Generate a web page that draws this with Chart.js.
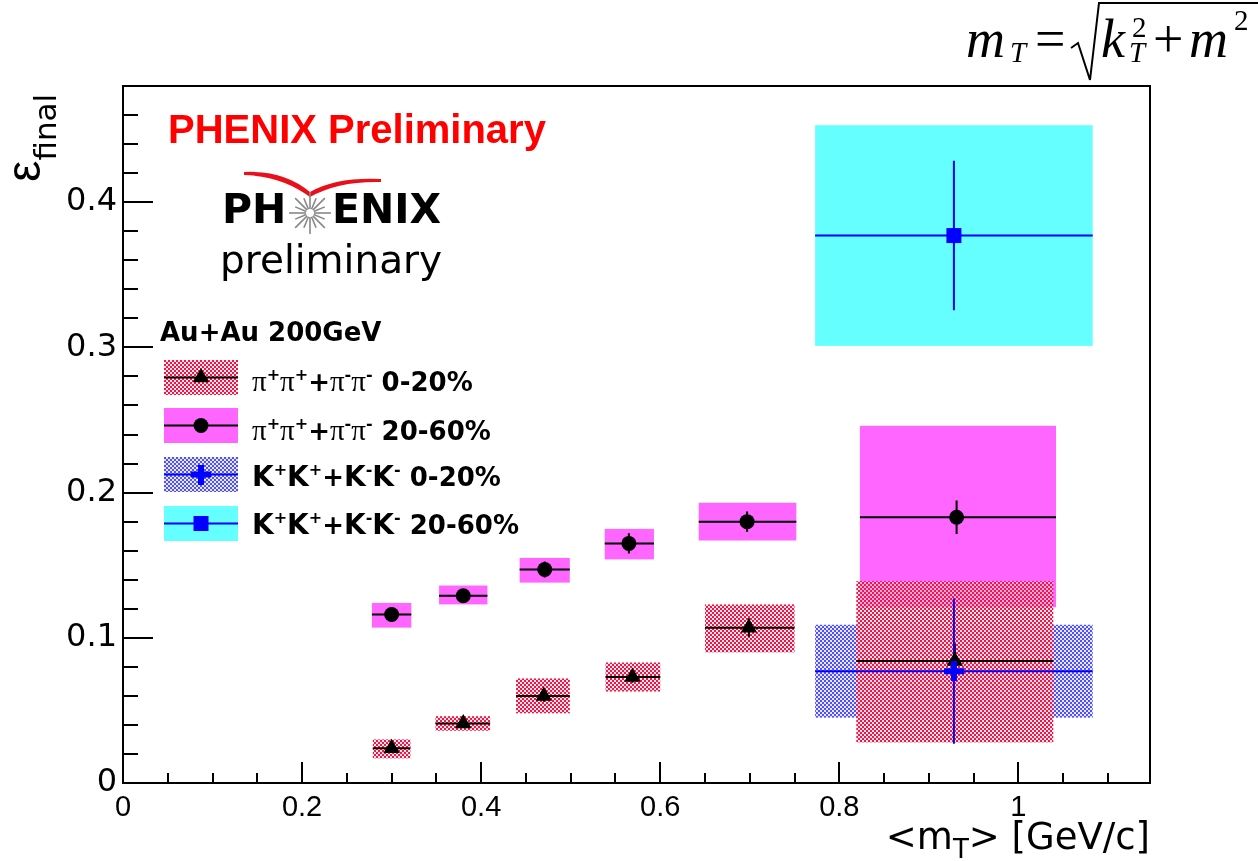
<!DOCTYPE html>
<html>
<head>
<meta charset="utf-8">
<script src="https://cdn.jsdelivr.net/npm/chart.js@4.4.1/dist/chart.umd.min.js"></script>
<style>
body { margin: 0; background: #fff; }
#wrap { position: relative; width: 1258px; height: 861px; overflow: hidden; }
#c { position: absolute; left: 0; top: 0; }
.t { position: absolute; white-space: nowrap; line-height: 1; color: #000; }
.serif { font-family: "Liberation Serif", "Times New Roman", serif; }
.fi { font-style: italic; }
.leg { font-family: "DejaVu Sans", sans-serif; font-weight: bold; font-size: 26px; }
.leg .gr { font-family: "Liberation Serif", serif; font-weight: normal; font-size: 29px; }
.leg .kk { font-size: 28px; }
.leg .sp { font-size: 16px; position: relative; top: -11px; }
.sw { position: absolute; }
#over { position: absolute; left: 0; top: 0; }
</style>
</head>
<body>
<div id="wrap">
<canvas id="c" width="1258" height="861"></canvas>
<svg id="over" width="1258" height="861">
  <!-- logo swoosh -->
  <path d="M244,172 Q284,170 310,192 Q336,177 381,179 L381,182 Q338,181 310,197 Q282,176 244,175 Z" fill="#e8101a"/>
  <g id="star" stroke="#888" stroke-width="1.6"></g>
  <!-- square root of the formula -->
  <polyline points="1071,48 1078,43 1090,80 1099,3 1258,3" fill="none" stroke="#000" stroke-width="2"/>
</svg>

<!-- formula -->
<div class="t serif fi" style="left:966px; top:12px; font-size:54px">m</div>
<div class="t serif fi" style="left:1010px; top:38px; font-size:29px">T</div>
<div class="t serif" style="left:1035px; top:12px; font-size:54px">=</div>
<div class="t serif fi" style="left:1101px; top:12px; font-size:54px">k</div>
<div class="t serif" style="left:1132px; top:13px; font-size:29px">2</div>
<div class="t serif fi" style="left:1129px; top:38px; font-size:29px">T</div>
<div class="t serif" style="left:1153px; top:12px; font-size:54px">+</div>
<div class="t serif fi" style="left:1189px; top:12px; font-size:54px">m</div>
<div class="t serif" style="left:1234px; top:6px; font-size:29px">2</div>

<!-- axis titles -->
<div class="t" style="left:0px; top:182px; transform-origin:0 0; transform:rotate(-90deg); font-size:48px"><span style="font-family:'Liberation Sans',sans-serif">ε</span><span style="font-family:'DejaVu Sans',sans-serif; font-size:31px; position:relative; top:16px">final</span></div>
<div class="t" style="right:108px; top:818px; font-family:'DejaVu Sans',sans-serif; font-size:37px">&lt;m<span style="font-size:26px; position:relative; top:9px">T</span>&gt; [GeV/c]</div>

<!-- labels -->
<div class="t" style="left:168px; top:109px; font-family:'Liberation Sans',Arial,sans-serif; font-weight:bold; font-size:40px; color:#ff0000">PHENIX Preliminary</div>
<div class="t" style="left:222px; top:189px; font-family:'DejaVu Sans',sans-serif; font-weight:bold; font-size:41px">PH</div>
<div class="t" style="left:332px; top:189px; font-family:'DejaVu Sans',sans-serif; font-weight:bold; font-size:41px">ENIX</div>
<div class="t" style="left:220px; top:240px; font-family:'DejaVu Sans',sans-serif; font-size:39px">preliminary</div>

<!-- legend -->
<div class="t leg" style="left:160px; top:319px">Au+Au 200GeV</div>
<canvas class="sw" id="sw0" width="74" height="35" style="left:164px; top:360px"></canvas>
<canvas class="sw" id="sw1" width="74" height="35" style="left:164px; top:408px"></canvas>
<canvas class="sw" id="sw2" width="74" height="35" style="left:164px; top:457px"></canvas>
<canvas class="sw" id="sw3" width="74" height="35" style="left:164px; top:506px"></canvas>
<div class="t leg" style="left:252px; top:367px"><span class="gr">π</span><span class="sp">+</span><span class="gr">π</span><span class="sp">+</span>+<span class="gr">π</span><span class="sp">-</span><span class="gr">π</span><span class="sp">-</span> 0-20%</div>
<div class="t leg" style="left:252px; top:416px"><span class="gr">π</span><span class="sp">+</span><span class="gr">π</span><span class="sp">+</span>+<span class="gr">π</span><span class="sp">-</span><span class="gr">π</span><span class="sp">-</span> 20-60%</div>
<div class="t leg" style="left:252px; top:463px"><span class="kk">K</span><span class="sp">+</span><span class="kk">K</span><span class="sp">+</span>+<span class="kk">K</span><span class="sp">-</span><span class="kk">K</span><span class="sp">-</span> 0-20%</div>
<div class="t leg" style="left:252px; top:511px"><span class="kk">K</span><span class="sp">+</span><span class="kk">K</span><span class="sp">+</span>+<span class="kk">K</span><span class="sp">-</span><span class="kk">K</span><span class="sp">-</span> 20-60%</div>
</div>

<script>
// axis ticks
const xMajor = [0, 0.2, 0.4, 0.6, 0.8, 1];
const yMajor = [0, 0.1, 0.2, 0.3, 0.4];

// pi+pi+ + pi-pi-, 0-20%
const pi020Mt    = [0.300, 0.380, 0.470, 0.569, 0.699, 0.929];
const pi020Eps   = [0.024, 0.041, 0.060, 0.073, 0.107, 0.084];
const pi020Stat  = [0.003, 0.003, 0.004, 0.004, 0.0065, 0.012];
const pi020MtLo  = [0.279, 0.349, 0.439, 0.539, 0.650, 0.819];
const pi020MtHi  = [0.321, 0.410, 0.499, 0.600, 0.750, 1.039];
const pi020SysLo = [0.017, 0.036, 0.048, 0.063, 0.090, 0.028];
const pi020SysHi = [0.030, 0.046, 0.072, 0.083, 0.123, 0.139];

// pi+pi+ + pi-pi-, 20-60%
const pi2060Mt    = [0.300, 0.380, 0.471, 0.565, 0.697, 0.931];
const pi2060Eps   = [0.116, 0.129, 0.147, 0.165, 0.180, 0.183];
const pi2060Stat  = [0.004, 0.004, 0.0055, 0.007, 0.007, 0.0115];
const pi2060MtLo  = [0.278, 0.353, 0.443, 0.538, 0.643, 0.823];
const pi2060MtHi  = [0.322, 0.407, 0.499, 0.593, 0.752, 1.042];
const pi2060SysLo = [0.107, 0.123, 0.138, 0.154, 0.167, 0.121];
const pi2060SysHi = [0.124, 0.136, 0.155, 0.175, 0.193, 0.246];

// K+K+ + K-K-, 0-20%
const k020Mt    = [0.928];
const k020Eps   = [0.077];
const k020Stat  = [0.050];
const k020MtLo  = [0.773];
const k020MtHi  = [1.083];
const k020SysLo = [0.045];
const k020SysHi = [0.109];

// K+K+ + K-K-, 20-60%
const k2060Mt    = [0.928];
const k2060Eps   = [0.377];
const k2060Stat  = [0.0515];
const k2060MtLo  = [0.773];
const k2060MtHi  = [1.083];
const k2060SysLo = [0.301];
const k2060SysHi = [0.453];

const canvas = document.getElementById('c');
const ctx = canvas.getContext('2d');

// ROOT-like hatch (checker) fill
function checker(solid, soft) {
    const t = document.createElement('canvas');
    t.width = 4; t.height = 4;
    const g = t.getContext('2d');
    g.fillStyle = soft;
    g.fillRect(2, 0, 2, 2); g.fillRect(0, 2, 2, 2);
    g.fillStyle = solid;
    g.fillRect(0, 0, 2, 2); g.fillRect(2, 2, 2, 2);
    return t;
}
const redTile = checker('rgb(245,20,70)', 'rgba(255,215,225,0.6)');
const blueTile = checker('rgb(80,80,255)', 'rgba(215,215,255,0.6)');

// thick blue cross marker
const plus = document.createElement('canvas');
plus.width = 20; plus.height = 20;
(function () {
    const g = plus.getContext('2d');
    g.fillStyle = '#0000ff';
    g.fillRect(7, 0, 6, 20);
    g.fillRect(0, 7, 20, 6);
})();

const pi020 = { mt: pi020Mt, eps: pi020Eps, stat: pi020Stat, lo: pi020MtLo, hi: pi020MtHi, sLo: pi020SysLo, sHi: pi020SysHi,
    tile: redTile, line: '#000', marker: 'triangle', radius: 9.5 };
const pi2060 = { mt: pi2060Mt, eps: pi2060Eps, stat: pi2060Stat, lo: pi2060MtLo, hi: pi2060MtHi, sLo: pi2060SysLo, sHi: pi2060SysHi,
    color: 'rgb(255,102,255)', line: '#000', marker: 'circle', radius: 7.5 };
const k020 = { mt: k020Mt, eps: k020Eps, stat: k020Stat, lo: k020MtLo, hi: k020MtHi, sLo: k020SysLo, sHi: k020SysHi,
    tile: blueTile, line: '#0000ff', marker: plus, radius: 10 };
const k2060 = { mt: k2060Mt, eps: k2060Eps, stat: k2060Stat, lo: k2060MtLo, hi: k2060MtHi, sLo: k2060SysLo, sHi: k2060SysHi,
    color: 'rgb(102,255,255)', line: '#0000ff', marker: 'rect', radius: 10.6 };

const boxOrder = [k2060, pi2060, k020, pi020];
const barOrder = [pi2060, pi020, k020, k2060];

function fillOf(g, s) {
    return s.tile ? g.createPattern(s.tile, 'repeat') : s.color;
}

const rootStyle = {
    id: 'rootStyle',
    beforeDatasetsDraw(chart) {
        const { ctx, chartArea: a } = chart;
        const x = chart.scales.x, y = chart.scales.y;
        ctx.save();
        ctx.beginPath();
        ctx.rect(a.left, a.top, a.width, a.height);
        ctx.clip();
        boxOrder.forEach(s => {
            ctx.fillStyle = fillOf(ctx, s);
            s.mt.forEach((m, i) => {
                const x0 = x.getPixelForValue(s.lo[i]), x1 = x.getPixelForValue(s.hi[i]);
                const y0 = y.getPixelForValue(s.sHi[i]), y1 = y.getPixelForValue(s.sLo[i]);
                ctx.fillRect(x0, y0, x1 - x0, y1 - y0);
            });
        });
        ctx.lineWidth = 2;
        barOrder.forEach(s => {
            ctx.strokeStyle = s.line;
            s.mt.forEach((m, i) => {
                const px = x.getPixelForValue(m), py = y.getPixelForValue(s.eps[i]);
                ctx.beginPath();
                ctx.moveTo(x.getPixelForValue(s.lo[i]), py);
                ctx.lineTo(x.getPixelForValue(s.hi[i]), py);
                ctx.moveTo(px, y.getPixelForValue(s.eps[i] - s.stat[i]));
                ctx.lineTo(px, y.getPixelForValue(s.eps[i] + s.stat[i]));
                ctx.stroke();
            });
        });
        ctx.restore();
    },
    afterDraw(chart) {
        const { ctx, chartArea: a } = chart;
        const x = chart.scales.x, y = chart.scales.y;
        ctx.save();
        ctx.strokeStyle = '#000';
        ctx.lineWidth = 2;
        ctx.strokeRect(a.left, a.top, a.width, a.height);
        ctx.beginPath();
        for (let k = 1; k * 0.05 < x.max - 0.001; k++) {
            const px = Math.round(x.getPixelForValue(k * 0.05));
            const len = k % 4 === 0 ? 21 : 10;
            ctx.moveTo(px, a.bottom);
            ctx.lineTo(px, a.bottom - len);
        }
        for (let k = 1; k * 0.02 < y.max - 0.001; k++) {
            const py = Math.round(y.getPixelForValue(k * 0.02));
            const len = k % 5 === 0 ? 30 : 15;
            ctx.moveTo(a.left, py);
            ctx.lineTo(a.left + len, py);
        }
        ctx.stroke();
        ctx.restore();
    }
};

function toPoints(s) {
    return s.mt.map((m, i) => ({ x: m, y: s.eps[i] }));
}
function markerSet(s) {
    const black = s.line === '#000';
    return {
        data: toPoints(s),
        pointStyle: s.marker,
        pointRadius: s.radius,
        pointBackgroundColor: black ? '#000' : '#0000ff',
        pointBorderColor: black ? '#000' : '#0000ff',
        pointBorderWidth: 0,
        showLine: false
    };
}

new Chart(ctx, {
    type: 'scatter',
    data: {
        datasets: [markerSet(k020), markerSet(k2060), markerSet(pi020), markerSet(pi2060)]
    },
    options: {
        responsive: false,
        animation: false,
        events: [],
        layout: { padding: { top: 86, right: 108, left: 0, bottom: 0 } },
        plugins: { legend: { display: false }, tooltip: { enabled: false } },
        scales: {
            x: {
                type: 'linear', min: 0, max: 1.147,
                grid: { display: false, drawTicks: false },
                border: { display: false },
                afterBuildTicks: s => { s.ticks = xMajor.map(v => ({ value: v })); },
                afterFit: s => { s.height = 78; },
                ticks: {
                    padding: 8, color: '#000', maxRotation: 0, autoSkip: false,
                    font: { family: 'Liberation Sans', size: 29 },
                    callback: v => String(v)
                }
            },
            y: {
                type: 'linear', min: 0, max: 0.48,
                grid: { display: false, drawTicks: false },
                border: { display: false },
                afterBuildTicks: s => { s.ticks = yMajor.map(v => ({ value: v })); },
                afterFit: s => { s.width = 123; },
                ticks: {
                    padding: 6, color: '#000', autoSkip: false,
                    font: { family: 'DejaVu Sans', size: 32 },
                    callback: v => String(v)
                }
            }
        }
    },
    plugins: [rootStyle]
});

// legend swatches
function drawSwatch(id, s) {
    const g = document.getElementById(id).getContext('2d');
    g.fillStyle = fillOf(g, s);
    g.fillRect(0, 0, 74, 35);
    g.strokeStyle = s.line;
    g.lineWidth = 2;
    g.beginPath(); g.moveTo(0, 17.5); g.lineTo(74, 17.5); g.stroke();
    g.fillStyle = s.line === '#000' ? '#000' : '#0000ff';
    const cx = 37, cy = 17.5, r = s.radius;
    if (s.marker === 'triangle') {
        g.beginPath();
        g.moveTo(cx, cy - r);
        g.lineTo(cx + r * 0.866, cy + r * 0.5);
        g.lineTo(cx - r * 0.866, cy + r * 0.5);
        g.closePath(); g.fill();
    } else if (s.marker === 'circle') {
        g.beginPath(); g.arc(cx, cy, r, 0, Math.PI * 2); g.fill();
    } else if (s.marker === 'rect') {
        const h = r * Math.SQRT1_2;
        g.fillRect(cx - h, cy - h, 2 * h, 2 * h);
    } else {
        g.drawImage(s.marker, cx - 10, cy - 10);
    }
}
drawSwatch('sw0', pi020);
drawSwatch('sw1', pi2060);
drawSwatch('sw2', k020);
drawSwatch('sw3', k2060);

// logo star
(function () {
    const st = document.getElementById('star');
    for (let k = 0; k < 16; k++) {
        const a = k * Math.PI / 8;
        const r1 = 4, r2 = k % 2 ? 16 : 21;
        const l = document.createElementNS('http://www.w3.org/2000/svg', 'line');
        l.setAttribute('x1', 310 + r1 * Math.cos(a)); l.setAttribute('y1', 213 + r1 * Math.sin(a));
        l.setAttribute('x2', 310 + r2 * Math.cos(a)); l.setAttribute('y2', 213 + r2 * Math.sin(a));
        st.appendChild(l);
    }
})();
</script>
</body>
</html>
